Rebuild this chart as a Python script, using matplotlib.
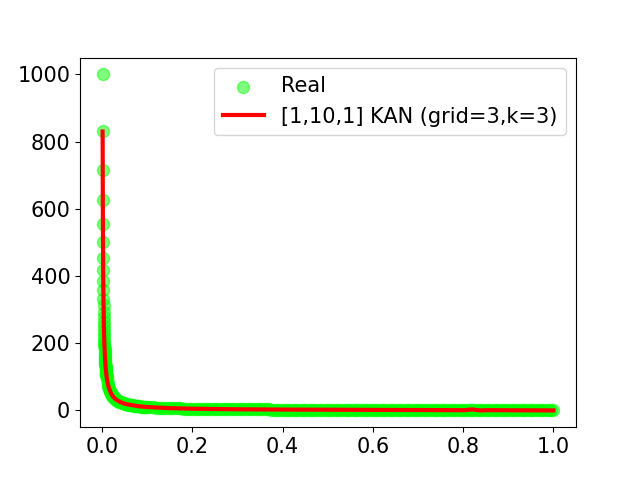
import matplotlib
matplotlib.use("Agg")
import matplotlib.pyplot as plt

plt.rcParams['font.size'] = 15

real_x = [0.001, 0.0012, 0.0014, 0.0016, 0.0018, 0.002, 0.0022, 0.0024, 0.0026, 0.0028,
          0.003, 0.0032, 0.0034, 0.0036, 0.0038, 0.004, 0.0042, 0.0044, 0.0046, 0.0048,
          0.005, 0.0052, 0.0054, 0.0056, 0.0058, 0.006, 0.0062, 0.0064, 0.0066, 0.0068,
          0.007, 0.0072, 0.0074, 0.0076, 0.0078, 0.008, 0.0082, 0.0084, 0.0086, 0.0088,
          0.009, 0.0092, 0.0094, 0.0096, 0.0098, 0.01,
          0.011, 0.012, 0.013, 0.014, 0.015, 0.016, 0.017, 0.018, 0.019, 0.02,
          0.021, 0.022, 0.023, 0.024, 0.025, 0.026, 0.027, 0.028, 0.029, 0.03,
          0.032, 0.034, 0.036, 0.038, 0.04, 0.042, 0.044, 0.046, 0.048, 0.05,
          0.052, 0.054, 0.056, 0.058, 0.06, 0.062, 0.064, 0.066, 0.068, 0.07,
          0.072, 0.074, 0.076, 0.078, 0.08, 0.082, 0.084, 0.086, 0.088, 0.09,
          0.092, 0.094, 0.096, 0.098,
          0.100, 0.105, 0.110, 0.115, 0.120, 0.125, 0.130, 0.135, 0.140, 0.145,
          0.150, 0.155, 0.160, 0.165, 0.170, 0.175, 0.180, 0.185, 0.190, 0.195,
          0.200, 0.205, 0.210, 0.215, 0.220, 0.225, 0.230, 0.235, 0.240, 0.245,
          0.250, 0.255, 0.260, 0.265, 0.270, 0.275, 0.280, 0.285, 0.290, 0.295,
          0.300, 0.305, 0.310, 0.315, 0.320, 0.325, 0.330, 0.335, 0.340, 0.345,
          0.350, 0.355, 0.360, 0.365, 0.370, 0.375, 0.380, 0.385, 0.390, 0.395,
          0.400, 0.405, 0.410, 0.415, 0.420, 0.425, 0.430, 0.435, 0.440, 0.445,
          0.450, 0.455, 0.460, 0.465, 0.470, 0.475, 0.480, 0.485, 0.490, 0.495,
          0.500, 0.505, 0.510, 0.515, 0.520, 0.525, 0.530, 0.535, 0.540, 0.545,
          0.550, 0.555, 0.560, 0.565, 0.570, 0.575, 0.580, 0.585, 0.590, 0.595,
          0.600, 0.605, 0.610, 0.615, 0.620, 0.625, 0.630, 0.635, 0.640, 0.645,
          0.650, 0.655, 0.660, 0.665, 0.670, 0.675, 0.680, 0.685, 0.690, 0.695,
          0.700, 0.705, 0.710, 0.715, 0.720, 0.725, 0.730, 0.735, 0.740, 0.745,
          0.750, 0.755, 0.760, 0.765, 0.770, 0.775, 0.780, 0.785, 0.790, 0.795,
          0.800, 0.805, 0.810, 0.815, 0.820, 0.825, 0.830, 0.835, 0.840, 0.845,
          0.850, 0.855, 0.860, 0.865, 0.870, 0.875, 0.880, 0.885, 0.890, 0.895,
          0.900, 0.905, 0.910, 0.915, 0.920, 0.925, 0.930, 0.935, 0.940, 0.945,
          0.950, 0.955, 0.960, 0.965, 0.970, 0.975, 0.980, 0.985, 0.990, 0.995,
          1.000]
real_y = [1000, 833, 714, 625, 556, 500, 455, 417, 385, 357,
          333, 313, 294, 278, 263, 250, 238, 227, 217, 208,
          200, 192, 185, 179, 172, 167, 161, 156, 152, 147,
          143, 139, 135, 132, 128, 125, 122, 119, 116, 114,
          111, 109, 106, 104, 102, 100,
          91, 83, 77, 71, 67, 63, 59, 56, 53, 50,
          48, 45, 43, 42, 40, 38, 37, 36, 34, 33,
          31.3, 29.4, 27.8, 26.3, 25, 23.8, 22.7, 21.7, 20.8, 20,
          19.2, 18.5, 17.9, 17.2, 16.7, 16.1, 15.6, 15.2, 14.7, 14.3,
          13.9, 13.5, 13.2, 12.8, 12.5, 12.2, 11.9, 11.6, 11.4, 11.1,
          10.9, 10.6, 10.4, 10.2,
          10.0, 9.52, 9.09, 8.70, 8.33, 8.00, 7.69, 7.41, 7.14, 6.90,
          6.67, 6.45, 6.25, 6.06, 5.88, 5.71, 5.56, 5.41, 5.26, 5.13,
          5.00, 4.88, 4.76, 4.65, 4.55, 4.44, 4.35, 4.26, 4.17, 4.08,
          4.00, 3.92, 3.85, 3.77, 3.70, 3.64, 3.57, 3.51, 3.45, 3.39,
          3.33, 3.28, 3.23, 3.17, 3.13, 3.08, 3.03, 2.99, 2.94, 2.90,
          2.86, 2.82, 2.78, 2.74, 2.70, 2.67, 2.63, 2.60, 2.56, 2.53,
          2.50, 2.47, 2.44, 2.41, 2.38, 2.35, 2.33, 2.30, 2.27, 2.25,
          2.22, 2.20, 2.17, 2.15, 2.13, 2.11, 2.08, 2.06, 2.04, 2.02,
          2.00, 1.98, 1.96, 1.94, 1.92, 1.90, 1.89, 1.87, 1.85, 1.83,
          1.82, 1.80, 1.79, 1.77, 1.75, 1.74, 1.72, 1.71, 1.69, 1.68,
          1.67, 1.65, 1.64, 1.63, 1.61, 1.60, 1.59, 1.57, 1.56, 1.55,
          1.54, 1.53, 1.52, 1.50, 1.49, 1.48, 1.47, 1.46, 1.45, 1.44,
          1.43, 1.42, 1.41, 1.40, 1.39, 1.38, 1.37, 1.36, 1.35, 1.34,
          1.33, 1.32, 1.32, 1.31, 1.30, 1.29, 1.28, 1.27, 1.27, 1.26,
          1.25, 1.24, 1.23, 1.23, 1.22, 1.21, 1.20, 1.20, 1.19, 1.18,
          1.18, 1.17, 1.16, 1.16, 1.15, 1.14, 1.14, 1.13, 1.12, 1.12,
          1.11, 1.10, 1.10, 1.09, 1.09, 1.08, 1.08, 1.07, 1.06, 1.06,
          1.05, 1.05, 1.04, 1.04, 1.03, 1.03, 1.02, 1.02, 1.01, 1.01,
          1.00]

kan_x = [0.001, 0.0012, 0.0014, 0.0016, 0.002, 0.0025, 0.003, 0.004, 0.005, 0.006,
         0.008, 0.01, 0.012, 0.015, 0.02, 0.025, 0.03, 0.04, 0.05, 0.06,
         0.08, 0.1, 0.15, 0.2, 0.3, 0.4, 0.5, 0.6, 0.7, 0.75,
         0.8, 0.81, 0.82, 0.83, 0.84, 0.86, 0.9, 0.95, 1.0]
kan_y = [830, 815, 710, 620, 500, 400, 333, 250, 200, 167,
         125, 100, 83, 67, 50, 40, 33, 25, 20, 17,
         12.5, 10, 6.7, 5, 3.3, 2.5, 2.0, 1.5, 1.1, 0.9,
         0.6, 1.5, 3.0, 1.0, 0.0, 0.8, 0.4, 0.2, 0.0]

fig, ax = plt.subplots(figsize=(6.4, 4.8), dpi=100)
ax.scatter(real_x, real_y, s=75, color='lime', alpha=0.5, label='Real')
ax.plot(kan_x, kan_y, color='red', linewidth=3, label='[1,10,1] KAN (grid=3,k=3)')
ax.legend(loc='upper right')
fig.savefig('out.png', dpi=100)
